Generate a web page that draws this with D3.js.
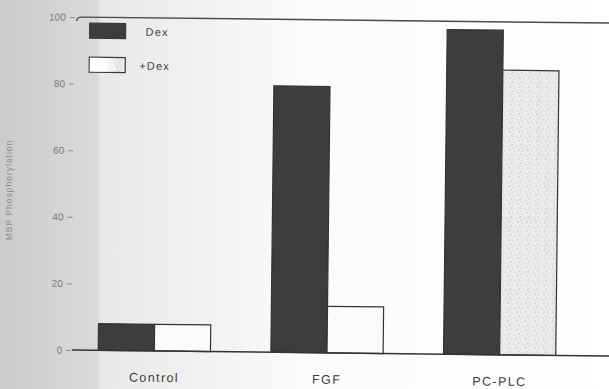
<!DOCTYPE html>
<html>
<head>
<meta charset="utf-8">
<script src="https://cdn.jsdelivr.net/npm/d3@7"></script>
<style>
  html, body { margin: 0; padding: 0; background: #fff; }
  svg { display: block; }
</style>
</head>
<body>
<svg id="chart" width="609" height="389"></svg>
<script>
// MBP phosphorylation by treatment, with and without dexamethasone
const categories = ["Control", "FGF", "PC-PLC"];
const seriesNames = ["Dex", "+Dex"];
const dexValues = [8, 80, 97.5];
const plusDexValues = [8, 14, 85.5];
const yTicks = [0, 20, 40, 60, 80, 100];
const yTickLabels = ["0", "20", "40", "60", "80", "100"];
const yLabel = "MBP Phosphorylation";

const rows = categories.map((c, i) => ({ category: c, values: [dexValues[i], plusDexValues[i]] }));

const W = 609, H = 389;
const svg = d3.select("#chart");
const defs = svg.append("defs");

// paper shading, darker toward the left edge
const bg = defs.append("linearGradient").attr("id", "paper").attr("x1", 0).attr("x2", 1).attr("y1", 0).attr("y2", 0);
bg.append("stop").attr("offset", 0).attr("stop-color", "#cbcbcb");
bg.append("stop").attr("offset", 0.16).attr("stop-color", "#dadada");
bg.append("stop").attr("offset", 0.165).attr("stop-color", "#e8e8e8");
bg.append("stop").attr("offset", 0.5).attr("stop-color", "#fbfbfb");
bg.append("stop").attr("offset", 1).attr("stop-color", "#ffffff");
svg.append("rect").attr("width", W).attr("height", H).attr("fill", "url(#paper)");

// stippled fill for the +Dex series
const pat = defs.append("pattern").attr("id", "stipple").attr("patternUnits", "userSpaceOnUse")
  .attr("width", 9).attr("height", 9);
pat.append("rect").attr("width", 9).attr("height", 9).attr("fill", "#ececec");
[[1, 1], [5, 2], [3, 5], [7, 6], [0, 7], [4, 8]].forEach(([cx, cy], k) => {
  pat.append("circle").attr("cx", cx).attr("cy", cy).attr("r", k % 2 ? 0.6 : 0.8).attr("fill", "#b8b8b8");
});

const light = defs.append("pattern").attr("id", "lightStipple").attr("patternUnits", "userSpaceOnUse")
  .attr("width", 11).attr("height", 11);
light.append("rect").attr("width", 11).attr("height", 11).attr("fill", "#fbfbfb");
[[2, 3], [8, 7]].forEach(([cx, cy]) => {
  light.append("circle").attr("cx", cx).attr("cy", cy).attr("r", 0.6).attr("fill", "#e2e2e2");
});

// legend swatch: white on the left, stippled on the right
const legendPat = defs.append("linearGradient").attr("id", "legendFade").attr("x1", 0).attr("x2", 1);
legendPat.append("stop").attr("offset", 0.45).attr("stop-color", "#ffffff").attr("stop-opacity", 1);
legendPat.append("stop").attr("offset", 0.8).attr("stop-color", "#ffffff").attr("stop-opacity", 0);

const g = svg.append("g").attr("transform", "rotate(0.65, 72, 350)");

const y = d3.scaleLinear().domain([0, 100]).range([350, 17]);
const x = d3.scaleBand().domain(categories).range([68, 586]).paddingInner(0.35).paddingOuter(0.175);
const xs = d3.scaleBand().domain(seriesNames).range([0, x.bandwidth()]);

const fills = { "Dex": "#3d3d3d", "+Dex": "url(#lightStipple)" };
const fillFor = (name, cat) => (name === "+Dex" && cat === "PC-PLC") ? "url(#stipple)" : fills[name];

// frame top line
g.append("path")
  .attr("d", `M73,${y(100) + 4} Q73,${y(100)} 78,${y(100)} L640,${y(100)}`)
  .attr("fill", "none").attr("stroke", "#4a4a4a").attr("stroke-width", 1.4);

// bars
const groups = g.selectAll("g.grp").data(rows).join("g")
  .attr("class", "grp")
  .attr("transform", d => `translate(${x(d.category)},0)`);

groups.selectAll("rect").data(d => d.values.map((v, i) => ({ name: seriesNames[i], value: v, cat: d.category })))
  .join("rect")
  .attr("x", d => xs(d.name))
  .attr("y", d => y(d.value))
  .attr("width", xs.bandwidth())
  .attr("height", d => y(0) - y(d.value))
  .attr("fill", d => fillFor(d.name, d.cat))
  .attr("stroke", "#333")
  .attr("stroke-width", 1.2);

// baseline
g.append("line").attr("x1", 72).attr("x2", 640).attr("y1", y(0)).attr("y2", y(0))
  .attr("stroke", "#333").attr("stroke-width", 1.5);

// y axis ticks and labels
const yAxis = d3.axisLeft(y).tickValues(yTicks).tickFormat((d, i) => yTickLabels[i]).tickSize(5).tickPadding(4);
const ya = g.append("g").attr("transform", "translate(71,0)").call(yAxis);
ya.select(".domain").remove();
ya.selectAll(".tick line").attr("stroke", "#8a8a8a").attr("stroke-width", 1);
ya.selectAll(".tick text").attr("fill", "#7a7a7a").attr("font-family", "Liberation Sans, Arial, sans-serif")
  .attr("font-size", 10);

// category labels
const xAxis = d3.axisBottom(x).tickSize(0).tickPadding(22);
const xa = g.append("g").attr("transform", `translate(0,${y(0)})`).call(xAxis);
xa.select(".domain").remove();
xa.selectAll(".tick text").attr("fill", "#3a3a3a").attr("font-family", "Liberation Sans, Arial, sans-serif")
  .attr("font-size", 12.5).attr("letter-spacing", "1.4px");

// y axis title
svg.append("text")
  .attr("transform", "translate(12,190) rotate(-90)")
  .attr("text-anchor", "middle")
  .attr("fill", "#8c8c8c")
  .attr("font-family", "Liberation Sans, Arial, sans-serif")
  .attr("font-size", 8.5)
  .attr("letter-spacing", "1px")
  .text(yLabel);

// legend
const legend = g.append("g").attr("transform", "translate(86,23)");
seriesNames.forEach((name, i) => {
  const row = legend.append("g").attr("transform", `translate(0,${i * 34})`);
  row.append("rect").attr("width", 36).attr("height", 15)
    .attr("fill", name === "Dex" ? fills[name] : "url(#stipple)")
    .attr("stroke", "#3a3a3a").attr("stroke-width", 1.2);
  if (name !== "Dex") {
    row.append("rect").attr("x", 0.6).attr("y", 0.6).attr("width", 34.8).attr("height", 13.8)
      .attr("fill", "url(#legendFade)");
  }
  row.append("text").attr("x", name === "Dex" ? 56 : 50).attr("y", 12)
    .attr("fill", "#444").attr("font-family", "Liberation Sans, Arial, sans-serif")
    .attr("font-size", 11).attr("letter-spacing", "1.2px")
    .text(name);
});
</script>
</body>
</html>
